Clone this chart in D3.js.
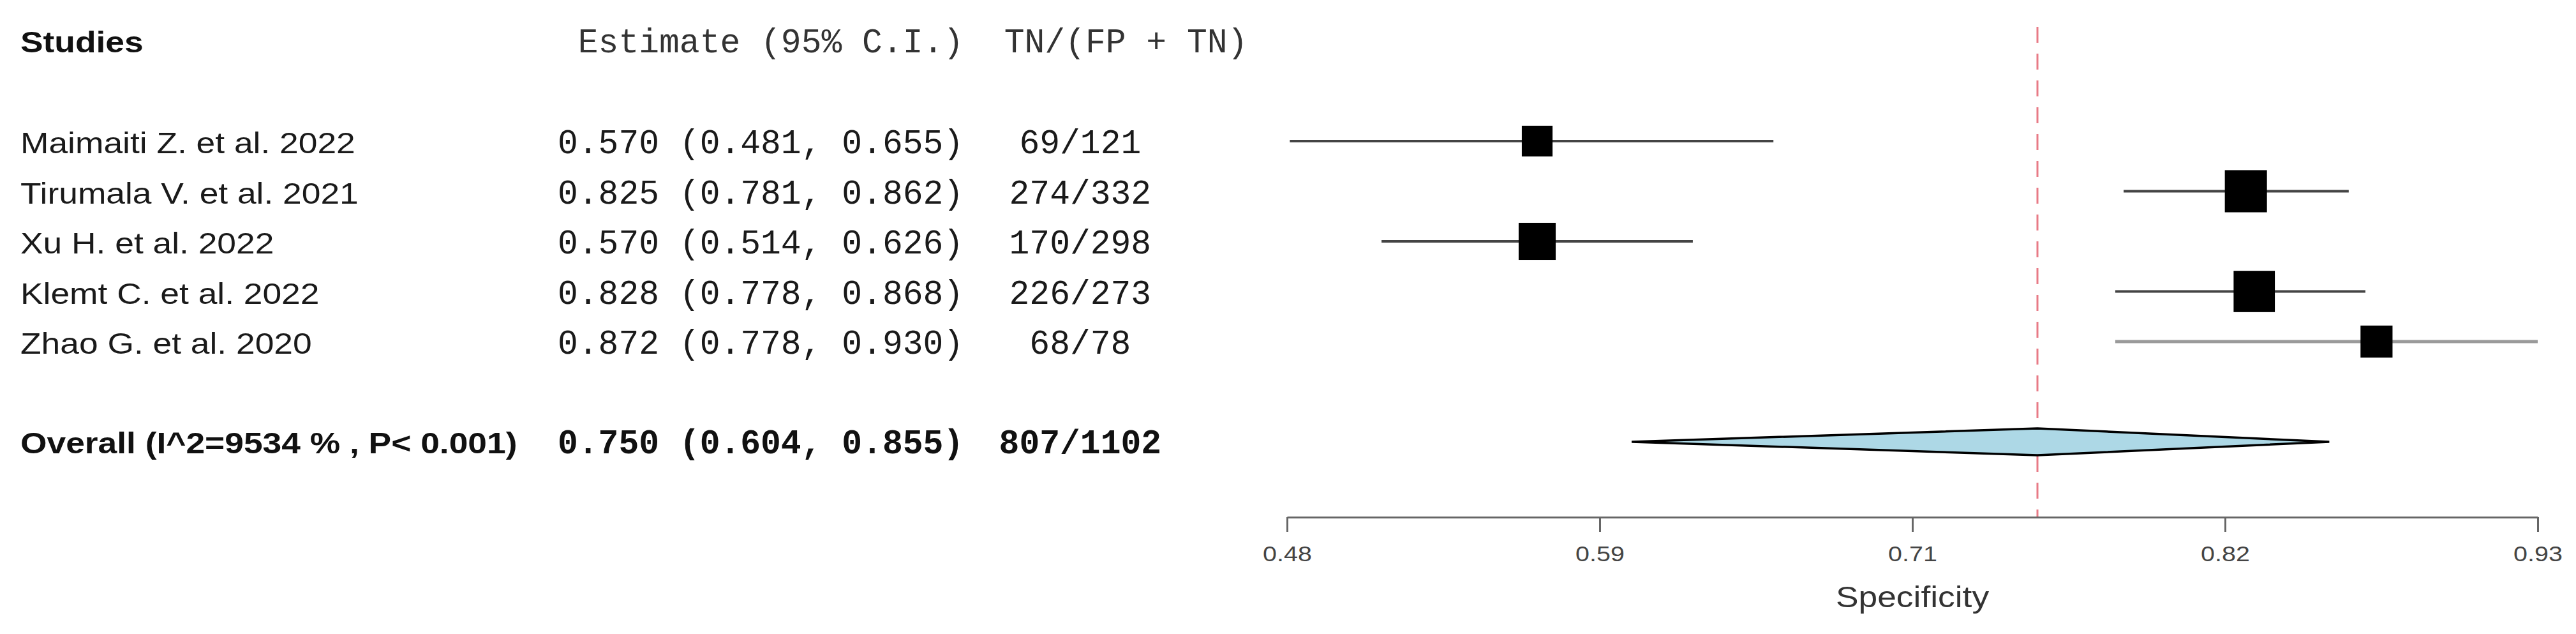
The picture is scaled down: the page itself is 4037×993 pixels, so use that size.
<!DOCTYPE html>
<html>
<head>
<meta charset="utf-8">
<script src="https://cdn.jsdelivr.net/npm/d3@7"></script>
<style>
  html, body { margin: 0; padding: 0; background: #fff; }
  svg { display: block; }
</style>
</head>
<body>
<script>
// ---------------- data ----------------
const studies   = ["Maimaiti Z. et al. 2022", "Tirumala V. et al. 2021", "Xu H. et al. 2022", "Klemt C. et al. 2022", "Zhao G. et al. 2020"];
const estimates = [0.570, 0.825, 0.570, 0.828, 0.872];
const lowerCI   = [0.481, 0.781, 0.514, 0.778, 0.778];
const upperCI   = [0.655, 0.862, 0.626, 0.868, 0.930];
const counts    = ["69/121", "274/332", "170/298", "226/273", "68/78"];
const weights   = [0.73, 1.00, 0.88, 0.98, 0.76];

const overallLabel = "Overall (I^2=9534 % , P< 0.001)";
const overallEst   = 0.750;
const overallLower = 0.604;
const overallUpper = 0.855;
const overallCount = "807/1102";

const headerStudies  = "Studies";
const headerEstimate = "Estimate (95% C.I.)";
const headerCount    = "TN/(FP + TN)";
const axisTitle      = "Specificity";
const tickValues = [0.48, 0.5925, 0.705, 0.8175, 0.93];
const tickLabels = ["0.48", "0.59", "0.71", "0.82", "0.93"];
const xDomain = [0.48, 0.93];

// ---------------- layout / style ----------------
const W = 4037, H = 993;
const lineColors = ["#444", "#444", "#444", "#444", "#9a9a9a"];
const sans = "'Liberation Sans', Arial, Helvetica, sans-serif";
const mono = "'Liberation Mono', 'Courier New', monospace";
const SX = 1.16;          // horizontal stretch of the proportional text
const labelX = 32, estX = 874, charW = 31.8;

const svg = d3.select("body").append("svg").attr("width", W).attr("height", H);

const x = d3.scaleLinear().domain(xDomain).range([2017, 3977]);
const y = d3.scaleLinear().domain([0, 6]).range([221, 692]);
const size = d3.scaleLinear().domain([0, 1]).range([0, 66]);
const fmt = d3.format(".3f");
const axisY = 810;

function sansText(g, str, tx, ty, opts) {
  return g.append("text")
    .attr("transform", `translate(${tx},${ty}) scale(${SX},1)`)
    .attr("font-family", sans)
    .attr("font-size", opts.size)
    .attr("font-weight", opts.weight || "normal")
    .attr("fill", opts.fill || "#1a1a1a")
    .attr("text-anchor", opts.anchor || "start")
    .text(str);
}

// ---- headers
sansText(svg, headerStudies, labelX, 82, {size: 46, weight: "bold", fill: "#111"});
svg.append("text").attr("x", estX + charW).attr("y", 82)
  .attr("font-family", mono).attr("font-size", 53).attr("fill", "#333")
  .attr("xml:space", "preserve")
  .text(headerEstimate + "  " + headerCount);

// ---- reference dashed line at overall estimate
svg.append("line")
  .attr("x1", x(overallEst)).attr("x2", x(overallEst))
  .attr("y1", 42).attr("y2", axisY)
  .attr("stroke", "#e87a86").attr("stroke-width", 3)
  .attr("stroke-dasharray", "25,17");

// ---- study rows
const rows = svg.append("g");
studies.forEach((s, i) => {
  const yy = y(i);
  sansText(rows, s, labelX, yy + 19, {size: 46, fill: "#1a1a1a"});
  rows.append("text").attr("x", estX).attr("y", yy + 19)
    .attr("font-family", mono).attr("font-size", 53).attr("fill", "#1a1a1a")
    .text(`${fmt(estimates[i])} (${fmt(lowerCI[i])}, ${fmt(upperCI[i])})`);
  rows.append("text").attr("x", estX + 25.75 * charW).attr("y", yy + 19)
    .attr("font-family", mono).attr("font-size", 53).attr("fill", "#1a1a1a")
    .attr("text-anchor", "middle")
    .text(counts[i]);
  rows.append("line")
    .attr("x1", x(lowerCI[i])).attr("x2", x(upperCI[i]))
    .attr("y1", yy).attr("y2", yy)
    .attr("stroke", lineColors[i]).attr("stroke-width", i === 4 ? 5 : 4);
  const s2 = size(weights[i]);
  rows.append("rect")
    .attr("x", x(estimates[i]) - s2 / 2).attr("y", yy - s2 / 2)
    .attr("width", s2).attr("height", s2)
    .attr("fill", "#000");
});

// ---- overall row
const oy = y(6);
sansText(svg, overallLabel, labelX, oy + 18, {size: 46, weight: "bold", fill: "#111"});
svg.append("text").attr("x", estX).attr("y", oy + 18)
  .attr("font-family", mono).attr("font-size", 53).attr("font-weight", "bold").attr("fill", "#111")
  .text(`${fmt(overallEst)} (${fmt(overallLower)}, ${fmt(overallUpper)})`);
svg.append("text").attr("x", estX + 25.75 * charW).attr("y", oy + 18)
  .attr("font-family", mono).attr("font-size", 53).attr("font-weight", "bold").attr("fill", "#111")
  .attr("text-anchor", "middle")
  .text(overallCount);

const dh = 21;
svg.append("path")
  .attr("d", `M${x(overallLower)},${oy} L${x(overallEst)},${oy - dh} L${x(overallUpper)},${oy} L${x(overallEst)},${oy + dh} Z`)
  .attr("fill", "#add8e6").attr("stroke", "#000").attr("stroke-width", 3.5)
  .attr("stroke-linejoin", "miter");

// ---- axis
const axis = d3.axisBottom(x).tickValues(tickValues)
  .tickFormat((d, i) => tickLabels[i]).tickSize(23).tickSizeOuter(0).tickPadding(22);
const ag = svg.append("g").attr("transform", `translate(0,${axisY})`).call(axis);
ag.select(".domain").attr("stroke", "#666").attr("stroke-width", 3);
ag.selectAll(".tick line").attr("stroke", "#666").attr("stroke-width", 3);
ag.selectAll(".tick text")
  .attr("font-family", sans).attr("font-size", 34).attr("fill", "#444")
  .attr("dy", null).attr("y", null)
  .attr("transform", `translate(0,69) scale(${SX},1)`);

sansText(svg, axisTitle, (x(xDomain[0]) + x(xDomain[1])) / 2, 951, {size: 46, fill: "#333", anchor: "middle"});
</script>
</body>
</html>
